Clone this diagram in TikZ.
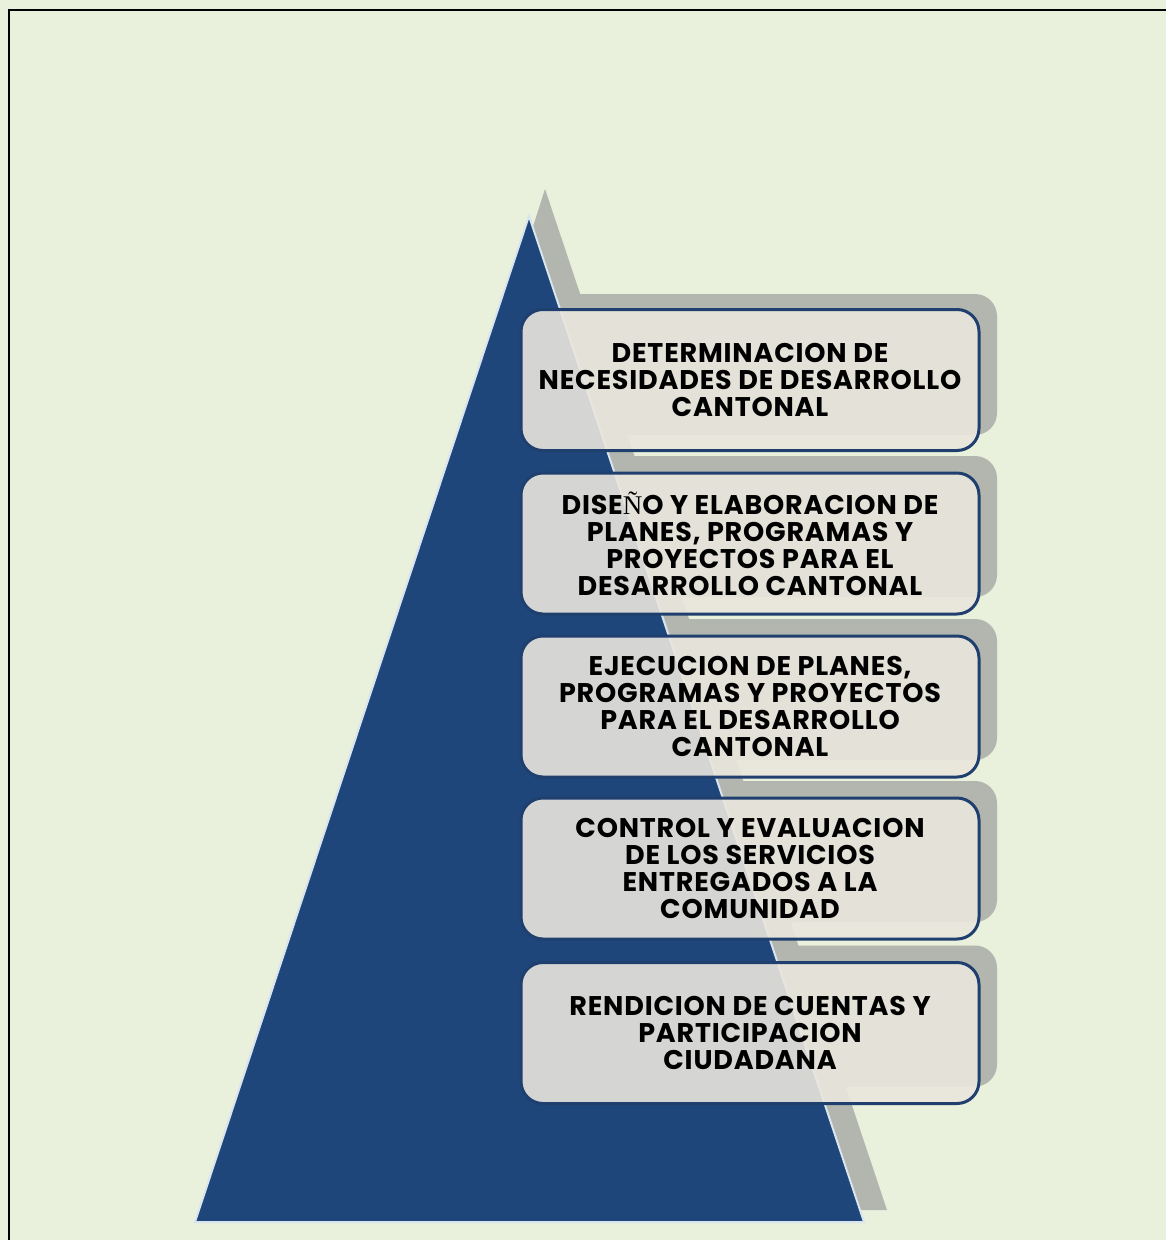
\documentclass[tikz,border=0pt]{standalone}
\usepackage{fontspec}
\setmainfont{Poppins}[LetterSpace=3]
\usetikzlibrary{positioning}
\definecolor{bg}{HTML}{E9F0DC}
\definecolor{pyr}{HTML}{1F467A}
\definecolor{pyredge}{HTML}{D8E4EE}
\definecolor{shadowgray}{HTML}{B3B6AE}
\definecolor{boxfill}{HTML}{E9E6DD}
\definecolor{boxline}{HTML}{1F3F6E}
\tikzset{
  stagebox/.style={draw=boxline, line width=3pt, rounded corners=22pt,
    fill=boxfill, fill opacity=0.9, text opacity=1,
    minimum width=458pt, minimum height=141pt, inner sep=0pt,
    align=center, font=\fontsize{27}{27}\selectfont\bfseries, text=black},
  stageshadow/.style={fill=shadowgray, rounded corners=22pt, draw=none,
    minimum width=458pt, minimum height=141pt, inner sep=0pt},
}
\newcommand{\serifN}{{\fontspec{Liberation Serif}\mdseries Ñ}}
\begin{document}
\begin{tikzpicture}[x=1pt,y=-1pt]
\useasboundingbox (0,0) rectangle (1166,1240);
\fill[bg] (0,0) rectangle (1166,1240);
\draw[black, line width=2pt] (9,1240) -- (9,10) -- (1166,10);
% box shadows
\foreach \yy/\nm in {381.5/s1,543.5/s2,706.5/s3,868.5/s4,1033/s5}{
  \node[stageshadow] (\nm) at (768,\yy-17) {};
}
% pyramid shadow
\fill[shadowgray] (545,189) -- (887,1210) -- (220,1210) -- cycle;
% pyramid
\filldraw[fill=pyr, draw=pyredge, line width=2pt] (529,216) -- (864,1222) -- (195,1222) -- cycle;
% boxes
\node[stagebox] (b1) at (750,380) {DETERMINACION DE\\NECESIDADES DE DESARROLLO\\CANTONAL};
\node[stagebox] (b2) at (750,543.5) {DISE\serifN O Y ELABORACION DE\\PLANES, PROGRAMAS Y\\PROYECTOS PARA EL\\DESARROLLO CANTONAL};
\node[stagebox] (b3) at (750,706.5) {EJECUCION DE PLANES,\\PROGRAMAS Y PROYECTOS\\PARA EL DESARROLLO\\CANTONAL};
\node[stagebox] (b4) at (750,868.5) {CONTROL Y EVALUACION\\DE LOS SERVICIOS\\ENTREGADOS A LA\\COMUNIDAD};
\node[stagebox] (b5) at (750,1033) {RENDICION DE CUENTAS Y\\PARTICIPACION\\CIUDADANA};
\end{tikzpicture}
\end{document}
